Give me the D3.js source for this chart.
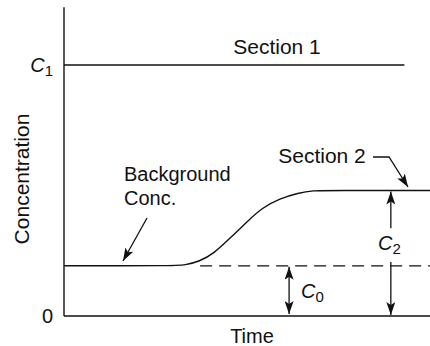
<!DOCTYPE html>
<html>
<head>
<meta charset="utf-8">
<script src="https://cdn.jsdelivr.net/npm/d3@7"></script>
<style>
  body { margin: 0; background: #fff; }
  svg text { font-family: "Liberation Sans", Arial, Helvetica, sans-serif; fill: #111; }
</style>
</head>
<body>
<svg id="chart"></svg>
<script>
// time in arbitrary units, concentration relative to C1
const time = [0, 30, 33, 37, 41, 45, 50, 54, 59, 64, 68, 73, 100];
const section2 = [0.2, 0.2, 0.203, 0.217, 0.25, 0.305, 0.375, 0.43, 0.468, 0.49, 0.5, 0.5, 0.5];
const section1Time = [0, 93];
const section1 = [1, 1];
const background = 0.2;   // C0
const yTickLabels = ["0", "C1"];
const yTickValues = [0, 1];

const width = 430, height = 346;
const svg = d3.select("#chart").attr("width", width).attr("height", height);

const x = d3.scaleLinear().domain([0, 100]).range([64, 430]);
const y = d3.scaleLinear().domain([0, 1]).range([316, 65]);

const ink = "#111";
const defs = svg.append("defs");
defs.append("marker")
    .attr("id", "head")
    .attr("markerUnits", "userSpaceOnUse")
    .attr("markerWidth", 13).attr("markerHeight", 9)
    .attr("refX", 13).attr("refY", 4.5)
    .attr("orient", "auto-start-reverse")
  .append("path")
    .attr("d", "M0,0 L13,4.5 L0,9 L3,4.5 Z")
    .attr("fill", ink);

// axes (plain lines, no ticks)
svg.append("line")
    .attr("x1", x(0)).attr("x2", x(0))
    .attr("y1", y(1.23)).attr("y2", y(0))
    .attr("stroke", ink).attr("stroke-width", 1.4);
svg.append("line")
    .attr("x1", x(0)).attr("x2", x(100))
    .attr("y1", y(0)).attr("y2", y(0))
    .attr("stroke", ink).attr("stroke-width", 1.4);

// tick labels
yTickValues.forEach((v, i) => {
    const t = svg.append("text")
        .attr("x", 53).attr("y", y(v) + 7)
        .attr("text-anchor", "end")
        .attr("font-size", 20);
    const lab = yTickLabels[i];
    if (lab.length > 1) {
        t.append("tspan").attr("font-style", "italic").text(lab[0]);
        t.append("tspan").attr("font-size", 15).attr("dy", 4).text(lab.slice(1));
    } else {
        t.text(lab);
    }
});

const line = d3.line()
    .x(d => x(d[0]))
    .y(d => y(d[1]))
    .curve(d3.curveBasis);

// Section 1
svg.append("path")
    .datum(d3.zip(section1Time, section1))
    .attr("d", line)
    .attr("fill", "none").attr("stroke", ink).attr("stroke-width", 1.4);

// Section 2
svg.append("path")
    .datum(d3.zip(time, section2))
    .attr("d", line)
    .attr("fill", "none").attr("stroke", ink).attr("stroke-width", 1.4);

// background level (dashed)
svg.append("line")
    .attr("x1", x(37.2)).attr("x2", x(100))
    .attr("y1", y(background)).attr("y2", y(background))
    .attr("stroke", ink).attr("stroke-width", 1.3)
    .attr("stroke-dasharray", "12 7");

function arrow(pts, both) {
    const p = svg.append("path")
        .attr("d", d3.line()(pts))
        .attr("fill", "none").attr("stroke", ink).attr("stroke-width", 1.3)
        .attr("marker-end", "url(#head)");
    if (both) p.attr("marker-start", "url(#head)");
}

function cLabel(px, py, sub) {
    const t = svg.append("text").attr("x", px).attr("y", py).attr("font-size", 20);
    t.append("tspan").attr("font-style", "italic").text("C");
    t.append("tspan").attr("font-size", 15).attr("dy", 4).text(sub);
}

// C0 double arrow
arrow([[x(61.5), y(background) + 1], [x(61.5), y(0) - 2]], true);
cLabel(301, 298, "0");

// C2 arrows
const plateau = section2[section2.length - 1];
arrow([[x(89.3), y(0.35)], [x(89.3), y(plateau) + 1]]);
arrow([[x(89.3), y(0.215)], [x(89.3), y(0) - 1]]);
cLabel(378, 250, "2");

// labels
svg.append("text").attr("x", 277).attr("y", 54)
    .attr("text-anchor", "middle").attr("font-size", 21).text("Section 1");
svg.append("text").attr("x", 322).attr("y", 163)
    .attr("text-anchor", "middle").attr("font-size", 21).text("Section 2");
arrow([[373, 157], [389, 157], [408, 187]]);

svg.append("text").attr("x", 124).attr("y", 181).attr("font-size", 20).text("Background");
svg.append("text").attr("x", 124).attr("y", 205).attr("font-size", 20).text("Conc.");
arrow([[147, 218], [123, 261]]);

svg.append("text").attr("x", 252).attr("y", 343)
    .attr("text-anchor", "middle").attr("font-size", 20).text("Time");
svg.append("text")
    .attr("transform", "translate(29,179) rotate(-90)")
    .attr("text-anchor", "middle").attr("font-size", 21).text("Concentration");
</script>
</body>
</html>
